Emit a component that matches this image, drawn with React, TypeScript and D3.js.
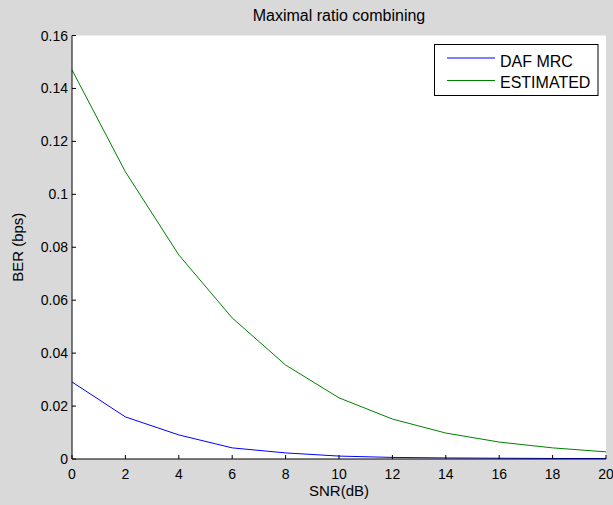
import React from "react";
import * as d3 from "d3";

const snr = [0, 2, 4, 6, 8, 10, 12, 14, 16, 18, 20];
const dafMrc = [0.0291, 0.0159, 0.0091, 0.0042, 0.0023, 0.0011, 0.0006, 0.0004, 0.0003, 0.0002, 0.0002];
const estimated = [0.147, 0.1085, 0.0771, 0.0533, 0.0355, 0.0231, 0.0151, 0.0098, 0.0064, 0.0042, 0.0027];
const xTicks = [0, 2, 4, 6, 8, 10, 12, 14, 16, 18, 20];
const yTicks = [0, 0.02, 0.04, 0.06, 0.08, 0.1, 0.12, 0.14, 0.16];
const seriesNames = ["DAF MRC", "ESTIMATED"];
const seriesColors = ["#0000ff", "#008000"];

export default function App() {
  const W = 613, H = 505;
  const L = 72, R = 606, T = 35.5, B = 459;
  const x = d3.scaleLinear().domain([0, 20]).range([L, R]);
  const y = d3.scaleLinear().domain([0, 0.16]).range([B, T]);
  const line = d3.line<number>().x((_, i) => x(snr[i])).y((d) => y(d));
  const font = "Liberation Sans, Arial, sans-serif";
  const series = [dafMrc, estimated];
  const fmt = (v: number) => (v === 0 ? "0" : String(+v.toFixed(2)));
  return (
    <svg width={W} height={H} style={{ position: "absolute", left: 0, top: 0 }} fontFamily={font}>
      <rect x={0} y={0} width={W} height={H} fill="#d9d9d9" />
      <rect x={L} y={T} width={R - L} height={B - T} fill="#ffffff" />
      {series.map((s, k) => (
        <path key={k} d={line(s) || ""} fill="none" stroke={seriesColors[k]} strokeWidth={1} />
      ))}
      {/* axes */}
      <line x1={L} y1={T} x2={L} y2={B} stroke="#000" strokeWidth={1} />
      <line x1={L} y1={B} x2={R} y2={B} stroke="#000" strokeWidth={1} />
      {yTicks.map((t) => (
        <g key={"y" + t}>
          <line x1={L} x2={L + 4} y1={y(t)} y2={y(t)} stroke="#000" />
          <text x={L - 4} y={y(t)} dy="0.36em" textAnchor="end" fontSize={14} fill="#000">
            {fmt(t)}
          </text>
        </g>
      ))}
      {xTicks.map((t) => (
        <g key={"x" + t}>
          <line x1={x(t)} x2={x(t)} y1={B} y2={B - 4} stroke="#000" />
          <text x={x(t)} y={B + 20} textAnchor="middle" fontSize={14} fill="#000">
            {t}
          </text>
        </g>
      ))}
      <text x={(L + R) / 2} y={21} textAnchor="middle" fontSize={16} fill="#000">
        Maximal ratio combining
      </text>
      <text x={(L + R) / 2} y={496} textAnchor="middle" fontSize={15} fill="#000">
        SNR(dB)
      </text>
      <text
        transform={`translate(23, ${(T + B) / 2}) rotate(-90)`}
        textAnchor="middle"
        fontSize={15}
        fill="#000"
      >
        BER (bps)
      </text>
      {/* legend */}
      <rect x={434.5} y={44.5} width={163.5} height={51} fill="#fff" stroke="#000" strokeWidth={1} />
      {seriesNames.map((n, k) => (
        <g key={n}>
          <line
            x1={447}
            x2={495}
            y1={58 + k * 22.5}
            y2={58 + k * 22.5}
            stroke={seriesColors[k]}
            strokeOpacity={k === 0 ? 0.5 : 1}
            strokeWidth={k === 0 ? 2 : 1}
          />
          <text x={500} y={66.7 + k * 21.3} fontSize={16} fill="#000">
            {n}
          </text>
        </g>
      ))}
    </svg>
  );
}
